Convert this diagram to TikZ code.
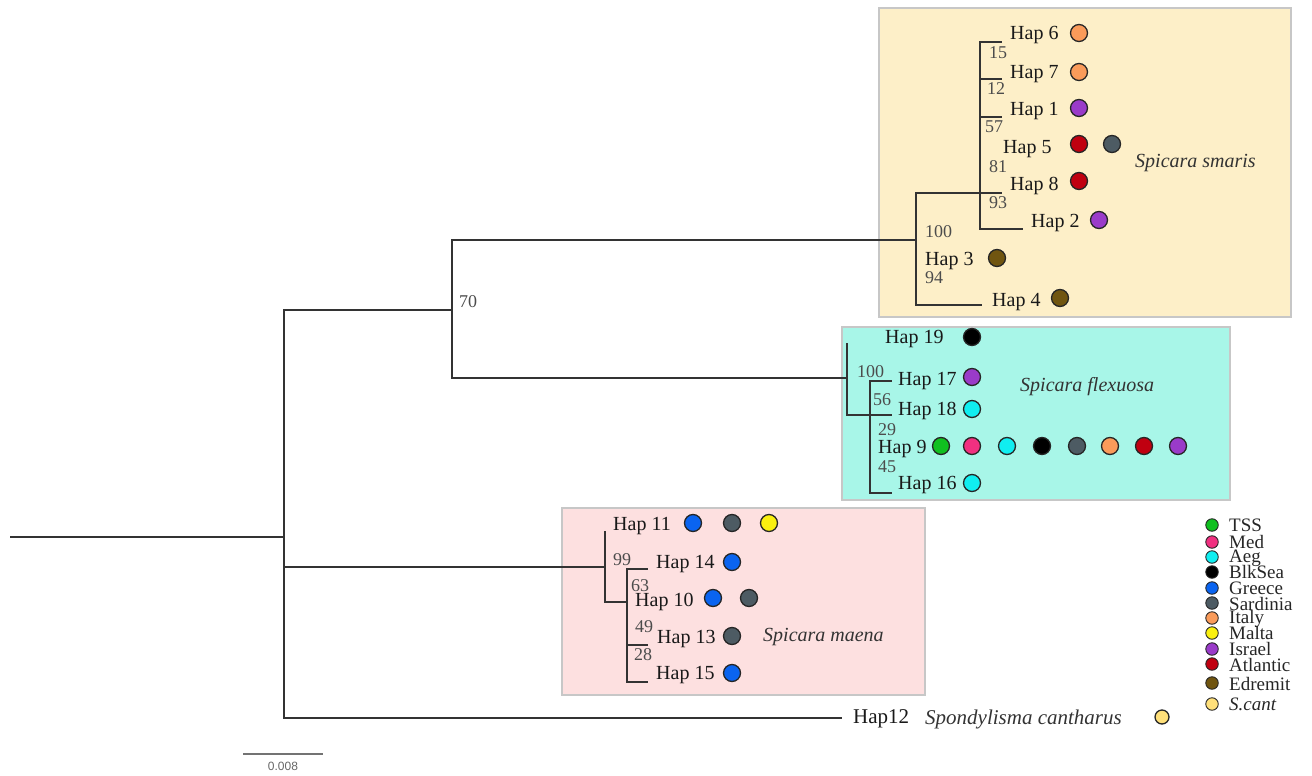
\documentclass[tikz,border=0pt]{standalone}
\usepackage{fontspec}
\setmainfont{Liberation Serif}
\newfontfamily\sansf{Liberation Sans}
\definecolor{cItaly}{HTML}{FA9B5A}
\definecolor{cIsrael}{HTML}{9A3BC9}
\definecolor{cAtl}{HTML}{C00010}
\definecolor{cSard}{HTML}{4D5B63}
\definecolor{cEdr}{HTML}{705510}
\definecolor{cBlk}{HTML}{000000}
\definecolor{cAeg}{HTML}{10EEF0}
\definecolor{cTSS}{HTML}{10C020}
\definecolor{cMed}{HTML}{F03080}
\definecolor{cGre}{HTML}{0A64F0}
\definecolor{cMal}{HTML}{FAF010}
\definecolor{cSca}{HTML}{FFE07A}
\definecolor{bSm}{HTML}{FDEFC8}
\definecolor{bFl}{HTML}{A8F6E8}
\definecolor{bMa}{HTML}{FDE0E0}
\begin{document}
\begin{tikzpicture}[x=1pt,y=-1pt,
  br/.style={line width=1.8pt, draw=black!80},
  hap/.style={anchor=west, inner sep=0pt, font=\fontsize{20}{20}\selectfont, text=black!90},
  bs/.style={anchor=west, inner sep=0pt, font=\fontsize{18}{18}\selectfont, text=black!70},
  sp/.style={anchor=west, inner sep=0pt, font=\fontsize{20}{20}\selectfont\itshape, text=black!80},
  dot/.style={circle, draw=black!85, line width=1.3pt, fill=#1, minimum size=17pt, inner sep=0pt},
  ldot/.style={circle, draw=black!85, line width=0.9pt, fill=#1, minimum size=12.5pt, inner sep=0pt},
  leg/.style={anchor=west, inner sep=0pt, font=\fontsize{19}{19}\selectfont, text=black!85},
  cbox/.style={draw=black!22, line width=1.8pt, fill=#1}]
\useasboundingbox (0,0) rectangle (1312,776);
% clade boxes
\path[cbox=bSm] (879,8) rectangle (1291,317);
\path[cbox=bFl] (842,327) rectangle (1230,500);
\path[cbox=bMa] (562,508) rectangle (925,695);
% coordinates
\coordinate (rootL) at (10,537);
\coordinate (root) at (284,537);
\coordinate (n70) at (452,310);
\coordinate (nSm) at (916,240);
\coordinate (nS2) at (980,193);
\coordinate (e6) at (1002,42);
\coordinate (e7) at (1002,79);
\coordinate (e1) at (1002,117);
\coordinate (e8) at (1002,193);
\coordinate (e2) at (1023,229);
\coordinate (e4) at (982,305);
\coordinate (nFl) at (847,378);
\coordinate (tF) at (847,343);
\coordinate (nF2) at (870,415);
\coordinate (e17) at (892,381);
\coordinate (e18) at (892,415);
\coordinate (e16) at (892,493);
\coordinate (nMa) at (605,567);
\coordinate (tM) at (605,531);
\coordinate (nM2) at (627,602);
\coordinate (e14) at (648,569);
\coordinate (e13) at (648,645);
\coordinate (e15) at (648,682);
\coordinate (e12) at (842,718);
% branches
\draw[br] (rootL) -- (root);
\draw[br] (root) |- (n70);
\draw[br] (root) |- (nMa);
\draw[br] (root) |- (e12);
\draw[br] (n70) |- (nSm);
\draw[br] (n70) |- (nFl);
\draw[br] (nSm) |- (nS2);
\draw[br] (nSm) |- (e4);
\draw[br] (nS2) -- (e8);
\draw[br] (nS2) |- (e6);
\draw[br] (nS2) |- (e7);
\draw[br] (nS2) |- (e1);
\draw[br] (nS2) |- (e2);
\draw[br] (nFl) -- (tF);
\draw[br] (nFl) |- (nF2);
\draw[br] (nF2) |- (e17);
\draw[br] (nF2) -- (e18);
\draw[br] (nF2) |- (e16);
\draw[br] (nMa) -- (tM);
\draw[br] (nMa) |- (nM2);
\draw[br] (nM2) |- (e14);
\draw[br] (nM2) |- (e13);
\draw[br] (nM2) |- (e15);
% bootstrap values
\node[bs] (b70) at (459,302) {70};
\node[bs] (b100a) at (925,232) {100};
\node[bs] (b94) at (925,278) {94};
\node[bs] (b15) at (989,53) {15};
\node[bs] (b12) at (987,89) {12};
\node[bs] (b57) at (985,127) {57};
\node[bs] (b81) at (989,167) {81};
\node[bs] (b93) at (989,203) {93};
\node[bs] (b100b) at (857,372) {100};
\node[bs] (b56) at (873,400) {56};
\node[bs] (b29) at (878,430) {29};
\node[bs] (b45) at (878,467) {45};
\node[bs] (b99) at (613,560) {99};
\node[bs] (b63) at (631,586) {63};
\node[bs] (b49) at (635,627) {49};
\node[bs] (b28) at (634,655) {28};
% haplotype labels
\node[hap] (h6) at (1010,35) {Hap 6};
\node[hap] (h7) at (1010,74) {Hap 7};
\node[hap] (h1) at (1010,111) {Hap 1};
\node[hap] (h5) at (1003,149) {Hap 5};
\node[hap] (h8) at (1010,186) {Hap 8};
\node[hap] (h2) at (1031,223) {Hap 2};
\node[hap] (h3) at (925,261) {Hap 3};
\node[hap] (h4) at (992,302) {Hap 4};
\node[hap] (h19) at (885,339) {Hap 19};
\node[hap] (h17) at (898,381) {Hap 17};
\node[hap] (h18) at (898,411) {Hap 18};
\node[hap] (h9) at (878,449) {Hap 9};
\node[hap] (h16) at (898,485) {Hap 16};
\node[hap] (h11) at (613,526) {Hap 11};
\node[hap] (h14) at (656,564) {Hap 14};
\node[hap] (h10) at (635,602) {Hap 10};
\node[hap] (h13) at (657,639) {Hap 13};
\node[hap] (h15) at (656,675) {Hap 15};
\node[hap, font=\fontsize{21}{21}\selectfont] (h12) at (853,719) {Hap12};
% species names
\node[sp] (sSm) at (1135,163) {Spicara smaris};
\node[sp] (sFl) at (1020,387) {Spicara flexuosa};
\node[sp] (sMa) at (763,637) {Spicara maena};
\node[sp, font=\fontsize{21}{21}\selectfont\itshape] (sSc) at (925,719) {Spondylisma cantharus};
% haplotype dots
\node[dot=cItaly] (d6) at (1079,33) {};
\node[dot=cItaly] (d7) at (1079,72) {};
\node[dot=cIsrael] (d1) at (1079,108) {};
\node[dot=cAtl] (d5a) at (1079,144) {};
\node[dot=cSard] (d5b) at (1112,144) {};
\node[dot=cAtl] (d8) at (1079,181) {};
\node[dot=cIsrael] (d2) at (1099,220) {};
\node[dot=cEdr] (d3) at (997,258) {};
\node[dot=cEdr] (d4) at (1060,298) {};
\node[dot=cBlk] (d19) at (972,337) {};
\node[dot=cIsrael] (d17) at (972,377) {};
\node[dot=cAeg] (d18) at (972,409) {};
\node[dot=cTSS] (d9a) at (941,446) {};
\node[dot=cMed] (d9b) at (972,446) {};
\node[dot=cAeg] (d9c) at (1007,446) {};
\node[dot=cBlk] (d9d) at (1042,446) {};
\node[dot=cSard] (d9e) at (1077,446) {};
\node[dot=cItaly] (d9f) at (1110,446) {};
\node[dot=cAtl] (d9g) at (1144,446) {};
\node[dot=cIsrael] (d9h) at (1178,446) {};
\node[dot=cAeg] (d16) at (972,483) {};
\node[dot=cGre] (d11a) at (693,523) {};
\node[dot=cSard] (d11b) at (732,523) {};
\node[dot=cMal] (d11c) at (769,523) {};
\node[dot=cGre] (d14) at (732,562) {};
\node[dot=cGre] (d10a) at (713,598) {};
\node[dot=cSard] (d10b) at (749,598) {};
\node[dot=cSard] (d13) at (732,636) {};
\node[dot=cGre] (d15) at (732,673) {};
\node[dot=cSca, minimum size=14pt] (d12) at (1162,717) {};
% legend
\node[ldot=cTSS] (l1) at (1212,525) {};
\node[ldot=cMed] (l2) at (1212,542) {};
\node[ldot=cAeg] (l3) at (1212,557) {};
\node[ldot=cBlk] (l4) at (1212,572) {};
\node[ldot=cGre] (l5) at (1212,588) {};
\node[ldot=cSard] (l6) at (1212,603) {};
\node[ldot=cItaly] (l7) at (1212,618) {};
\node[ldot=cMal] (l8) at (1212,633) {};
\node[ldot=cIsrael] (l9) at (1212,649) {};
\node[ldot=cAtl] (l10) at (1212,664) {};
\node[ldot=cEdr] (l11) at (1212,683) {};
\node[ldot=cSca] (l12) at (1212,704) {};
\node[leg] (t1) at (1229,525) {TSS};
\node[leg] (t2) at (1229,542) {Med};
\node[leg] (t3) at (1229,558) {Aeg};
\node[leg] (t4) at (1229,572) {BlkSea};
\node[leg] (t5) at (1229,588) {Greece};
\node[leg] (t6) at (1229,604) {Sardinia};
\node[leg] (t7) at (1229,619) {Italy};
\node[leg] (t8) at (1229,633) {Malta};
\node[leg] (t9) at (1229,649) {Israel};
\node[leg] (t10) at (1229,665) {Atlantic};
\node[leg] (t11) at (1229,684) {Edremit};
\node[leg, font=\fontsize{19}{19}\selectfont\itshape] (t12) at (1229,704) {S.cant};
% scale bar
\coordinate (sb1) at (243,754);
\coordinate (sb2) at (323,754);
\draw[line width=1.8pt, draw=black!55] (sb1) -- (sb2);
\node[inner sep=0pt, font=\sansf\fontsize{12}{12}\selectfont, text=black!60] (sbl) at (283,766) {0.008};
\end{tikzpicture}
\end{document}
